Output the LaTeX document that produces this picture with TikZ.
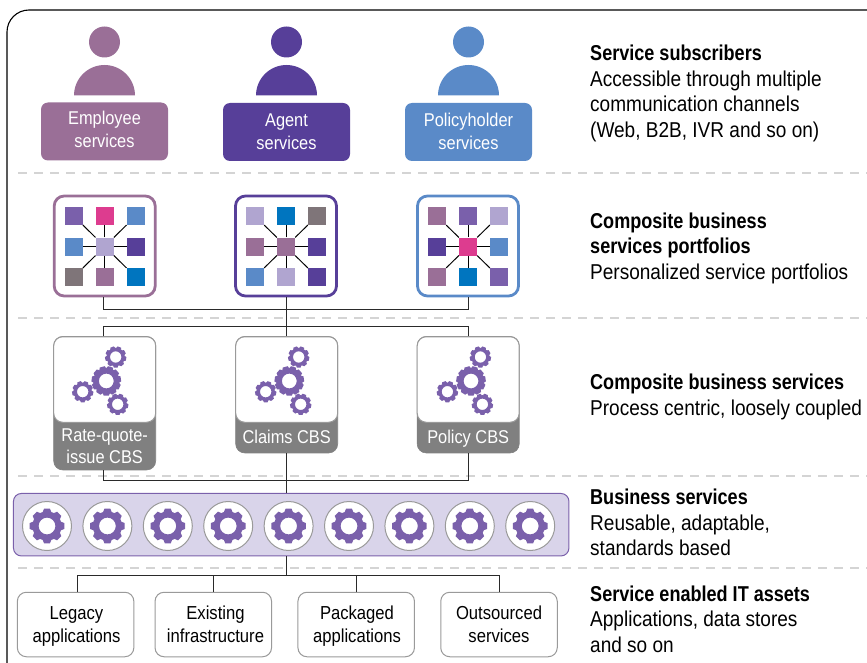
\documentclass[tikz,border=0pt]{standalone}
\usepackage{fontspec}
\setmainfont[FakeStretch=0.885,BoldFeatures={FakeStretch=0.84}]{Liberation Sans}
\definecolor{cMauve}{HTML}{9A6F97}
\definecolor{cDark}{HTML}{573F99}
\definecolor{cBlue}{HTML}{5A8AC8}
\definecolor{cLav}{HTML}{B0A5D0}
\definecolor{cPink}{HTML}{DD3C8F}
\definecolor{cGrey}{HTML}{7F7579}
\definecolor{cSea}{HTML}{0075BF}
\definecolor{cMed}{HTML}{7A60AB}
\definecolor{cBand}{HTML}{D9D4EA}
\definecolor{cDash}{HTML}{D4D4D4}
\definecolor{cEdge}{HTML}{9A9A9A}
\definecolor{cCbs}{HTML}{808080}
\definecolor{cWire}{HTML}{2A2A2A}
\tikzset{
  sep/.style={cDash,line width=1.2pt,dash pattern=on 9pt off 7pt},
  wire/.style={cWire,line width=1pt},
  svcbox/.style={rounded corners=7pt,minimum width=127pt,minimum height=58pt,inner sep=0pt},
  svctext/.style={text=white,align=center,inner sep=0pt,font=\fontsize{18.5}{23}\selectfont},
  pbox/.style={draw=#1,fill=white,line width=2.8pt,rounded corners=10pt,minimum width=101pt,minimum height=100pt,inner sep=0pt},
  sq/.style={minimum size=18pt,inner sep=0pt,fill=#1},
  cbsbox/.style={fill=cCbs,draw=cCbs,rounded corners=9pt,minimum width=102pt,inner sep=0pt,line width=0.6pt},
  cbstop/.style={fill=white,draw=cEdge,rounded corners=9pt,minimum width=102pt,minimum height=85.5pt,inner sep=0pt,line width=1pt},
  cbstext/.style={text=white,align=center,inner sep=0pt,font=\fontsize{18.5}{22.5}\selectfont},
  ring/.style={circle,fill=white,draw=cEdge,line width=1pt,minimum size=49pt,inner sep=0pt},
  band/.style={fill=cBand,draw=cMed,line width=1pt,rounded corners=8pt,minimum width=555.5pt,minimum height=62.5pt,inner sep=0pt},
  itbox/.style={fill=white,draw=cEdge,line width=1pt,rounded corners=9pt,minimum width=116.5pt,minimum height=64.5pt,inner sep=0pt},
  ittext/.style={align=center,inner sep=0pt,font=\fontsize{18.8}{22.5}\selectfont},
  side/.style={anchor=north west,inner sep=0pt,align=left,font=\fontsize{21.5}{25.5}\selectfont},
}
\newcommand\gearicon[6]{% x y root tip hole teeth
  \begin{scope}[shift={(#1,#2)}]
    \fill[cMed,even odd rule] (0,0) circle[radius=#3pt] (0,0) circle[radius=#5pt];
    \foreach \k in {1,...,#6}{
      \fill[cMed,rotate={\k*360/#6}] (-0.26*#4,0.92*#3) -- (-0.17*#4,#4) -- (0.17*#4,#4) -- (0.26*#4,0.92*#3) -- cycle;
    }
  \end{scope}}
\newcommand\person[2]{% x colour
  \fill[#2] (#1,42) circle[radius=15.5pt];
  \fill[#2] (#1-30.5,95.5) arc[start angle=180,end angle=0,radius=30.5pt] -- cycle;}
\newcommand\portfolio[4]{% name x edge colours
  \node[pbox=#3] (#1) at (#2,246) {};
  \foreach \c [count=\i] in {#4}{
    \pgfmathtruncatemacro\col{mod(\i-1,3)}
    \pgfmathtruncatemacro\row{int((\i-1)/3)}
    \node[sq=\c] (#1s\i) at (#2-31+31*\col,216+\row*30.5) {};
  }
  \foreach \i in {1,2,3,4,6,7,8,9}{\draw[black,line width=1pt] (#1s5) -- (#1s\i);}
}
\newcommand\cbsgears[1]{%
  \gearicon{106.3+#1}{381}{12.8}{14.7}{7.4}{11}
  \gearicon{115.7+#1}{357}{9.2}{10.6}{5.7}{9}
  \gearicon{82.7+#1}{391.7}{9.2}{10.6}{5.7}{9}
  \gearicon{117.7+#1}{404.3}{9.2}{10.6}{5.7}{9}}
\begin{document}
\begin{tikzpicture}[x=1pt,y=-1pt]
\clip (0,0) rectangle (867,663);
\draw[black,line width=1.1pt,rounded corners=22pt] (7,690) -- (7,10) -- (900,10);
% separators
\foreach \yy in {173,318,476,568}{\draw[sep] (18,\yy) -- (867,\yy);}
% subscribers
\person{104.5}{cMauve}
\person{286.5}{cDark}
\person{468.5}{cBlue}
\node[svcbox,fill=cMauve] (s1) at (104.5,131.5) {};
\node[svcbox,fill=cDark] (s2) at (286.5,132) {};
\node[svcbox,fill=cBlue] (s3) at (468.5,132) {};
\node[svctext] (s1t) at (104.5,131) {\strut Employee\\\strut services};
\node[svctext] (s2t) at (286.5,133.5) {\strut Agent\\\strut services};
\node[svctext] (s3t) at (468.5,133.5) {\strut Policyholder\\\strut services};
% bus coordinates
\coordinate (busA) at (286,309.5);
\coordinate (busB) at (286,326);
\coordinate (busC) at (286,480.5);
\coordinate (busD) at (286,575.5);
% portfolios
\portfolio{p1}{104.7}{cMauve}{cMed,cPink,cBlue,cBlue,cLav,cDark,cGrey,cMauve,cSea}
\portfolio{p2}{286}{cDark}{cLav,cSea,cGrey,cMauve,cMauve,cDark,cBlue,cLav,cDark}
\portfolio{p3}{468}{cBlue}{cMauve,cMed,cLav,cDark,cPink,cBlue,cMauve,cSea,cMed}
% CBS
\node[cbsbox,minimum height=133.5pt] (c1) at (104.7,403.2) {};
\node[cbsbox,minimum height=116.5pt] (c2) at (286.7,394.7) {};
\node[cbsbox,minimum height=116.5pt] (c3) at (468.2,394.7) {};
\node[cbstop] (t1) at (104.7,379.5) {};
\node[cbstop] (t2) at (286.7,379.5) {};
\node[cbstop] (t3) at (468.2,379.5) {};
\node[cbstext] (l1) at (104.7,448) {\strut Rate-quote-\\\strut issue CBS};
\node[cbstext] (l2) at (286.7,438.5) {\strut Claims CBS};
\node[cbstext] (l3) at (468.2,438.5) {\strut Policy CBS};
\cbsgears{0}
\cbsgears{183}
\cbsgears{364.7}
% wires portfolio to CBS
\draw[wire] ([xshift=-1.2pt]p1.south) |- (busA);
\draw[wire] ([xshift=0.6pt]p3.south) |- (busA);
\draw[wire] (p2.south) -- (t2.north -| p2.south);
\draw[wire] ([xshift=-1.2pt]t1.north) |- (busB);
\draw[wire] ([xshift=0.3pt]t3.north) |- (busB);
% band
\node[band] (band) at (291.2,524.7) {};
\foreach \k in {0,...,8}{
  \node[ring] (g\k) at ({47+\k*60.4},526) {};
  \gearicon{47+\k*60.4}{526}{14.6}{17.3}{8.4}{8}
}
\draw[wire] ([xshift=-1.2pt]c1.south) |- (busC);
\draw[wire] ([xshift=0.3pt]c3.south) |- (busC);
\draw[wire] (c2.south -| busC) -- (band.north -| busC);
% assets
\node[itbox] (i1) at (75.6,624.5) {};
\node[itbox] (i2) at (213.3,624.5) {};
\node[itbox] (i3) at (356.2,624.5) {};
\node[itbox] (i4) at (499,624.5) {};
\node[ittext] (i1t) at (76.5,626.5) {\strut Legacy\\\strut applications};
\node[ittext] (i2t) at (215.5,626.5) {\strut Existing\\\strut infrastructure};
\node[ittext] (i3t) at (357,626.5) {\strut Packaged\\\strut applications};
\node[ittext] (i4t) at (499,626.5) {\strut Outsourced\\\strut services};
\draw[wire] (band.south -| busD) -- (busD);
\draw[wire] ([xshift=1.4pt]i1.north) |- (busD);
\draw[wire] (i2.north) |- (busD);
\draw[wire] (i3.north) |- (busD);
\draw[wire] (i4.north) |- (busD);
% side text
\node[side] (h1) at (590,45) {\textbf{Service subscribers}\\Accessible through multiple\\communication channels\\(Web, B2B, IVR and so on)};
\node[side] (h2) at (590,212.5) {\textbf{Composite business}\\\textbf{services portfolios}\\Personalized service portfolios};
\node[side] (h3) at (590,374) {\textbf{Composite business services}\\Process centric, loosely coupled};
\node[side] (h4) at (590,489) {\textbf{Business services}\\Reusable, adaptable,\\standards based};
\node[side] (h5) at (590,585.5) {\textbf{Service enabled IT assets}\\Applications, data stores\\and so on};
\end{tikzpicture}
\end{document}
